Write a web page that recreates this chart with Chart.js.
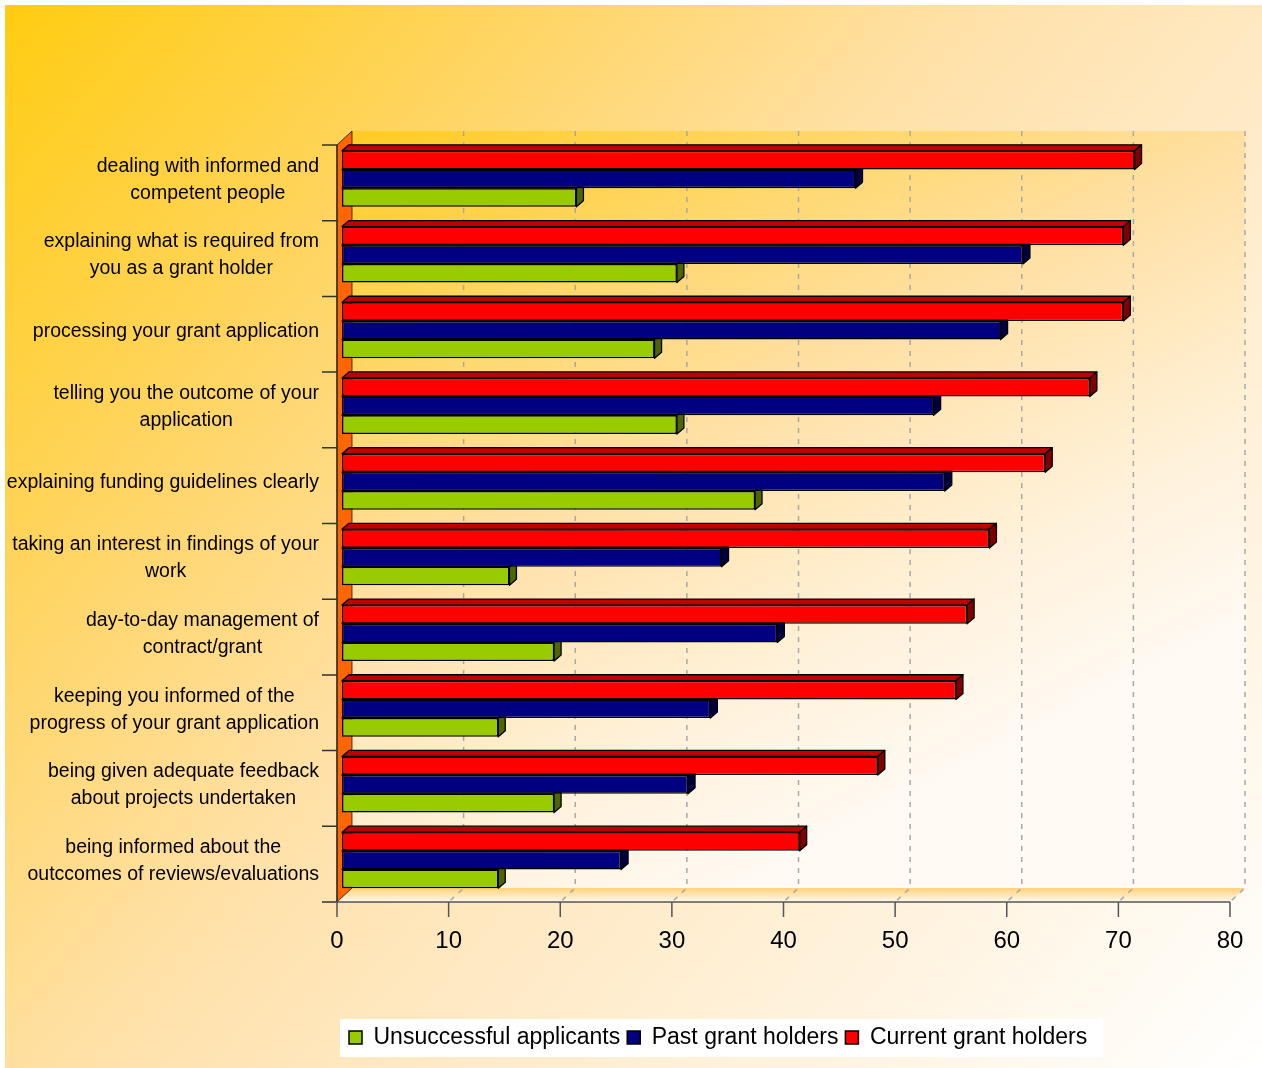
<!DOCTYPE html>
<html>
<head>
<meta charset="utf-8">
<script src="https://cdn.jsdelivr.net/npm/chart.js@4.4.0/dist/chart.umd.min.js"></script>
<style>
  html, body { margin: 0; padding: 0; background: #fff; }
  #wrap { width: 1262px; height: 1068px; }
</style>
</head>
<body>
<div id="wrap"><canvas id="grantChart" width="1262" height="1068"></canvas></div>
<script>
// categories, top to bottom (each entry = lines of the label)
const categories = [
  ['dealing with informed and', 'competent people'],
  ['explaining what is required from', 'you as a grant holder'],
  ['processing your grant application'],
  ['telling you the outcome of your', 'application'],
  ['explaining funding guidelines clearly'],
  ['taking an interest in findings of your', 'work'],
  ['day-to-day management of', 'contract/grant'],
  ['keeping you informed of the', 'progress of your grant application'],
  ['being given adequate feedback', 'about projects undertaken'],
  ['being informed about the', 'outccomes of reviews/evaluations']
];

const currentHolders = [71, 70, 70, 67, 63, 58, 56, 55, 48, 41];
const pastHolders    = [46, 61, 59, 53, 54, 34, 39, 33, 31, 25];
const unsuccessful   = [21, 30, 28, 30, 37, 15, 19, 14, 19, 14];

const xTicks = [0, 10, 20, 30, 40, 50, 60, 70, 80];

const FONT = '"Liberation Sans", Arial, sans-serif';

// 3D look: bar depth and wall offsets (pixels)
const BAR_DX = 7, BAR_DY = 6;
const FRONT_DX = -5, FRONT_DY = 4;
const BACK_DX = 10, BACK_DY = -10;

/**
 * Background, back wall, floor, left wall, axes and category labels.
 */
const scenePlugin = {
  id: 'scene',
  beforeDraw(chart) {
    const { ctx, width, height } = chart;
    ctx.save();
    ctx.fillStyle = '#fff';
    ctx.fillRect(0, 0, width, height);
    const bg = ctx.createLinearGradient(5, 5, width, height);
    bg.addColorStop(0, '#FFCC11');
    bg.addColorStop(0.25, '#FFD565');
    bg.addColorStop(0.45, '#FFE1A8');
    bg.addColorStop(0.6, '#FFE9C4');
    bg.addColorStop(1, '#FFFFFF');
    ctx.fillStyle = bg;
    ctx.fillRect(5, 5, width - 5, height - 5);

    // white box behind legend
    const hb = chart.legend && chart.legend.legendHitBoxes;
    if (hb && hb.length) {
      const first = hb[0], last = hb[hb.length - 1];
      ctx.fillStyle = '#fff';
      ctx.fillRect(first.left - 9, first.top - 7,
        last.left + last.width + 16 - (first.left - 9), first.height + 15);
    }
    ctx.restore();
  },

  beforeDatasetsDraw(chart) {
    const { ctx, chartArea: area } = chart;
    const xs = chart.scales.x, ys = chart.scales.y;
    const x0 = xs.getPixelForValue(xTicks[0]);
    const xN = xs.getPixelForValue(xTicks[xTicks.length - 1]);
    const fL = x0 + FRONT_DX, fR = xN + FRONT_DX;
    const fT = area.top + FRONT_DY, fB = area.bottom + FRONT_DY;
    const bL = x0 + BACK_DX, bR = xN + BACK_DX;
    const bT = area.top + BACK_DY, bB = area.bottom + BACK_DY;

    ctx.save();

    // back wall
    const wall = ctx.createLinearGradient(bL, bT, bL + 400, bB);
    wall.addColorStop(0, '#FFCC22');
    wall.addColorStop(0.5, '#FFE0A4');
    wall.addColorStop(0.8, '#FFF2DC');
    wall.addColorStop(1, '#FFFAF4');
    ctx.fillStyle = wall;
    ctx.fillRect(bL, bT, bR - bL, bB - bT);

    // floor
    const floor = ctx.createLinearGradient(0, bB, 0, fB);
    floor.addColorStop(0, '#FFD27A');
    floor.addColorStop(1, '#FFF9F0');
    ctx.fillStyle = floor;
    ctx.beginPath();
    ctx.moveTo(fL, fB); ctx.lineTo(fR, fB); ctx.lineTo(bR, bB); ctx.lineTo(bL, bB);
    ctx.closePath();
    ctx.fill();

    // dashed grid on back wall and floor
    ctx.strokeStyle = '#A8A8A8';
    ctx.lineWidth = 1.5;
    ctx.setLineDash([5, 6]);
    xTicks.slice(1).forEach(v => {
      const px = xs.getPixelForValue(v);
      ctx.beginPath();
      ctx.moveTo(px + BACK_DX, bT);
      ctx.lineTo(px + BACK_DX, bB);
      ctx.lineTo(px + FRONT_DX, fB);
      ctx.stroke();
    });
    ctx.setLineDash([]);

    // left wall (orange)
    ctx.fillStyle = '#FF6600';
    ctx.beginPath();
    ctx.moveTo(fL, fT); ctx.lineTo(bL, bT); ctx.lineTo(bL, bB); ctx.lineTo(fL, fB);
    ctx.closePath();
    ctx.fill();
    ctx.strokeStyle = 'rgba(0,0,0,0.7)';
    ctx.lineWidth = 1;
    ctx.stroke();

    // left axis + band ticks
    ctx.strokeStyle = '#333';
    ctx.lineWidth = 1.5;
    ctx.beginPath();
    ctx.moveTo(fL, fT); ctx.lineTo(fL, fB);
    const band = (area.bottom - area.top) / categories.length;
    for (let i = 0; i <= categories.length; i++) {
      const y = fT + i * band;
      ctx.moveTo(fL - 15, y); ctx.lineTo(fL, y);
    }
    ctx.stroke();

    // bottom axis + ticks
    ctx.strokeStyle = '#555';
    ctx.beginPath();
    ctx.moveTo(fL, fB); ctx.lineTo(fR, fB);
    xTicks.forEach(v => {
      const px = xs.getPixelForValue(v) + FRONT_DX;
      ctx.moveTo(px, fB); ctx.lineTo(px, fB + 15);
    });
    ctx.stroke();

    // category labels: block right aligned, lines centred
    ctx.font = '19.5px ' + FONT;
    ctx.fillStyle = '#000';
    ctx.textAlign = 'center';
    ctx.textBaseline = 'middle';
    const lineH = 27;
    categories.forEach((lines, i) => {
      const cy = ys.getPixelForValue(i) + 1;
      const maxW = Math.max(...lines.map(t => ctx.measureText(t).width));
      const cx = fL - 18 - maxW / 2;
      lines.forEach((t, k) => {
        ctx.fillText(t, cx, cy + (k - (lines.length - 1) / 2) * lineH);
      });
    });

    ctx.restore();
  },

  // top and side faces of each bar, drawn right after its dataset
  afterDatasetDraw(chart, args) {
    const { ctx } = chart;
    const ds = chart.data.datasets[args.index];
    ctx.save();
    ctx.strokeStyle = '#000';
    ctx.lineWidth = 1.3;
    ctx.lineJoin = 'round';
    args.meta.data.forEach(bar => {
      const { x, y, base, height } = bar.getProps(['x', 'y', 'base', 'height'], true);
      const top = y - height / 2, bottom = y + height / 2;
      ctx.fillStyle = ds.topColor;
      ctx.beginPath();
      ctx.moveTo(base, top); ctx.lineTo(base + BAR_DX, top - BAR_DY);
      ctx.lineTo(x + BAR_DX, top - BAR_DY); ctx.lineTo(x, top);
      ctx.closePath();
      ctx.fill(); ctx.stroke();
      ctx.fillStyle = ds.sideColor;
      ctx.beginPath();
      ctx.moveTo(x, top); ctx.lineTo(x + BAR_DX, top - BAR_DY);
      ctx.lineTo(x + BAR_DX, bottom - BAR_DY); ctx.lineTo(x, bottom);
      ctx.closePath();
      ctx.fill(); ctx.stroke();
    });
    ctx.restore();
  }
};

function makeDataset(label, data, front, topColor, sideColor) {
  return {
    label: label,
    data: data,
    backgroundColor: front,
    borderColor: '#000',
    borderWidth: 1.5,
    borderSkipped: false,
    topColor: topColor,
    sideColor: sideColor,
    categoryPercentage: 0.74,
    barPercentage: 1.0
  };
}

function renderChart() {
  const ctx = document.getElementById('grantChart').getContext('2d');
  new Chart(ctx, {
    type: 'bar',
    data: {
      labels: categories,
      datasets: [
        makeDataset('Current grant holders', currentHolders, '#FF0000', '#C00000', '#800000'),
        makeDataset('Past grant holders', pastHolders, '#000080', '#000060', '#000040'),
        makeDataset('Unsuccessful applicants', unsuccessful, '#99CC00', '#739900', '#4D6600')
      ]
    },
    options: {
      indexAxis: 'y',
      responsive: false,
      animation: false,
      events: [],
      layout: { autoPadding: false, padding: { left: 342, right: 27, top: 141, bottom: 9 } },
      scales: {
        x: {
          min: xTicks[0],
          max: xTicks[xTicks.length - 1],
          grid: { display: false },
          border: { display: false },
          ticks: {
            stepSize: xTicks[1] - xTicks[0],
            labelOffset: FRONT_DX,
            padding: 21,
            color: '#000',
            font: { family: FONT, size: 24 }
          },
          // fixed axis band; no extra room for the end labels
          afterFit(axis) {
            axis.height = 121;
            axis.paddingLeft = 0;
            axis.paddingRight = 0;
          }
        },
        y: { display: false }
      },
      plugins: {
        tooltip: { enabled: false },
        legend: {
          position: 'bottom',
          align: 'start',
          labels: {
            boxWidth: 13,
            boxHeight: 13,
            padding: 7,
            color: '#000',
            font: { family: FONT, size: 23 },
            sort: (a, b) => b.datasetIndex - a.datasetIndex
          }
        }
      }
    },
    plugins: [scenePlugin]
  });
}

document.addEventListener('DOMContentLoaded', renderChart);
</script>
</body>
</html>
